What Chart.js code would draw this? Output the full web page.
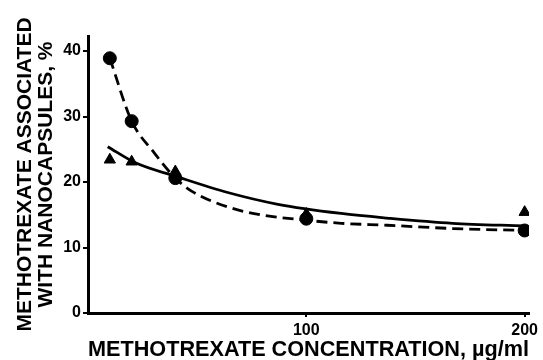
<!DOCTYPE html>
<html lang="en">
<head>
    <meta charset="UTF-8">
    <title>Methotrexate associated with nanocapsules</title>
    <script src="https://cdn.jsdelivr.net/npm/chart.js"></script>
    <style>
        body { margin: 0; background: #fff; }
    </style>
</head>
<body>
    <canvas id="chart" width="543" height="360"></canvas>

    <script>
        // measured points
        const circleX = [10, 20, 40, 100, 200];
        const circleY = [38.9, 29.3, 20.6, 14.4, 12.6];
        const triangleX = [10, 20, 40, 100, 200];
        const triangleY = [23.4, 23.1, 21.6, 15.1, 15.4];

        // fitted curves
        const dashedX = [10, 20, 30, 40, 48, 64, 79, 99, 116, 137, 167, 200];
        const dashedY = [38.9, 29.3, 24.6, 20.6, 18.5, 16.2, 15.0, 14.2, 13.7, 13.4, 12.9, 12.6];
        const solidX = [9, 22, 40, 64, 87, 116, 137, 167, 200];
        const solidY = [25.4, 22.9, 20.9, 18.4, 16.6, 15.2, 14.5, 13.7, 13.3];

        const xTicks = [100, 200];
        const yTicks = [0, 10, 20, 30, 40];

        function pts(xs, ys) {
            return xs.map((x, i) => ({ x: x, y: ys[i] }));
        }

        const font = 'Liberation Sans, Arial, sans-serif';

        new Chart(document.getElementById('chart'), {
            type: 'scatter',
            data: {
                datasets: [
                    {
                        data: pts(dashedX, dashedY),
                        showLine: true,
                        borderColor: '#000',
                        borderWidth: 2.8,
                        borderDash: [11, 6],
                        pointRadius: 0,
                        cubicInterpolationMode: 'monotone'
                    },
                    {
                        data: pts(solidX, solidY),
                        showLine: true,
                        borderColor: '#000',
                        borderWidth: 2.8,
                        pointRadius: 0,
                        cubicInterpolationMode: 'monotone'
                    },
                    {
                        data: pts(circleX, circleY),
                        pointStyle: 'circle',
                        pointRadius: 6.5,
                        backgroundColor: '#000',
                        borderColor: '#000'
                    },
                    {
                        data: pts(triangleX, triangleY),
                        pointStyle: 'triangle',
                        pointRadius: 6.5,
                        backgroundColor: '#000',
                        borderColor: '#000'
                    }
                ]
            },
            options: {
                responsive: false,
                animation: false,
                layout: { padding: { top: 36, right: 14, left: 15, bottom: -3 } },
                plugins: { legend: { display: false }, tooltip: { enabled: false } },
                scales: {
                    x: {
                        type: 'linear',
                        min: 0,
                        max: 202,
                        afterBuildTicks: (s) => { s.ticks = xTicks.map(v => ({ value: v })); },
                        afterFit: (s) => { s.height = 50; },
                        grid: { display: true, drawOnChartArea: false, color: '#000', tickLength: 4, lineWidth: 2 },
                        border: { color: '#000', width: 3 },
                        ticks: { color: '#000', font: { family: font, size: 16, weight: 'bold' }, padding: 4, maxRotation: 0 },
                        title: {
                            display: true,
                            text: 'METHOTREXATE CONCENTRATION, \u00b5g/ml',
                            color: '#000',
                            font: { family: font, size: 22, weight: 'bold' },
                            padding: { top: 0, bottom: 0 }
                        }
                    },
                    y: {
                        min: 0,
                        max: 42.3,
                        afterBuildTicks: (s) => { s.ticks = yTicks.map(v => ({ value: v })); },
                        afterFit: (s) => { s.width = 73; },
                        grid: { display: true, drawOnChartArea: false, color: '#000', tickLength: 5, lineWidth: 2 },
                        border: { color: '#000', width: 3 },
                        ticks: { color: '#000', font: { family: font, size: 16, weight: 'bold' }, padding: 2 },
                        title: {
                            display: true,
                            text: ['METHOTREXATE ASSOCIATED', 'WITH NANOCAPSULES, %'],
                            color: '#000',
                            font: { family: font, size: 21, weight: 'bold', lineHeight: 0.98 },
                            padding: { top: 0, bottom: 0 }
                        }
                    }
                }
            }
        });
    </script>
</body>
</html>
